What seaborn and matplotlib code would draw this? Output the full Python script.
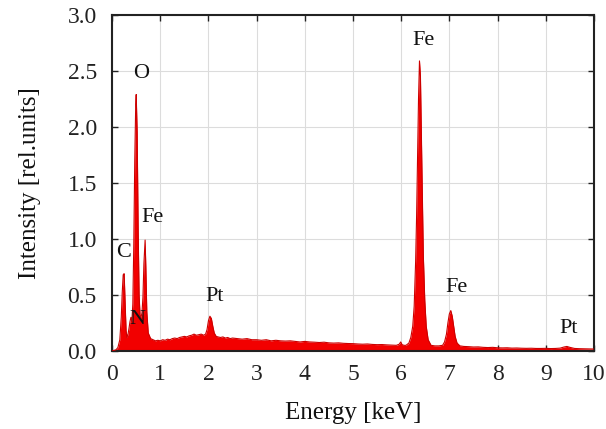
import matplotlib
matplotlib.use("Agg")
import matplotlib.pyplot as plt
import seaborn as sns
import pandas as pd

# Energy [keV] and intensity [rel. units]
energy = [
    0.00, 0.08, 0.12, 0.16, 0.19, 0.21, 0.23, 0.25, 0.27, 0.29, 0.31, 0.33,
    0.35, 0.37, 0.39, 0.41, 0.43, 0.45, 0.47, 0.49, 0.50, 0.52, 0.54, 0.56,
    0.58, 0.60, 0.62, 0.64, 0.66, 0.685, 0.70, 0.72, 0.75, 0.80, 0.85, 0.90,
    0.95, 1.00, 1.05, 1.10, 1.15, 1.20, 1.25, 1.30, 1.35, 1.40, 1.45, 1.50,
    1.55, 1.60, 1.65, 1.70, 1.75, 1.80, 1.85, 1.90, 1.94, 1.97, 2.00, 2.03,
    2.06, 2.09, 2.12, 2.16, 2.20, 2.25, 2.30, 2.35, 2.40, 2.45, 2.50, 2.60,
    2.70, 2.80, 2.90, 3.00, 3.10, 3.20, 3.30, 3.40, 3.50, 3.60, 3.70, 3.80,
    3.90, 4.00, 4.10, 4.20, 4.30, 4.40, 4.50, 4.60, 4.70, 4.80, 4.90, 5.00,
    5.10, 5.20, 5.30, 5.40, 5.50, 5.60, 5.70, 5.80, 5.90, 5.96, 5.99, 6.02,
    6.06, 6.10, 6.16, 6.20, 6.24, 6.27, 6.30, 6.32, 6.34, 6.36, 6.38, 6.40,
    6.42, 6.44, 6.46, 6.49, 6.52, 6.56, 6.62, 6.70, 6.78, 6.86, 6.90, 6.94,
    6.97, 7.00, 7.03, 7.06, 7.09, 7.12, 7.16, 7.22, 7.30, 7.40, 7.50, 7.60,
    7.70, 7.80, 7.90, 8.00, 8.10, 8.20, 8.30, 8.40, 8.50, 8.60, 8.70, 8.80,
    8.90, 9.00, 9.10, 9.20, 9.30, 9.38, 9.44, 9.50, 9.60, 9.70, 9.80, 9.90,
    10.00,
]
intensity = [
    0.00, 0.01, 0.03, 0.10, 0.30, 0.52, 0.68, 0.69, 0.42, 0.18, 0.12, 0.15,
    0.20, 0.26, 0.30, 0.26, 0.42, 0.95, 1.70, 2.20, 2.29, 1.95, 1.10, 0.50,
    0.32, 0.30, 0.34, 0.48, 0.78, 0.99, 0.75, 0.35, 0.16, 0.11, 0.10, 0.09,
    0.095, 0.09, 0.10, 0.095, 0.105, 0.10, 0.11, 0.115, 0.11, 0.12, 0.125, 0.13,
    0.125, 0.135, 0.14, 0.15, 0.14, 0.145, 0.15, 0.14, 0.15, 0.19, 0.27, 0.31,
    0.29, 0.22, 0.16, 0.13, 0.125, 0.12, 0.125, 0.115, 0.12, 0.11, 0.115, 0.11,
    0.105, 0.11, 0.10, 0.10, 0.095, 0.10, 0.09, 0.095, 0.09, 0.088, 0.09, 0.085,
    0.08, 0.085, 0.08, 0.078, 0.075, 0.078, 0.072, 0.07, 0.072, 0.068, 0.066, 0.065,
    0.062, 0.06, 0.062, 0.058, 0.056, 0.057, 0.054, 0.052, 0.05, 0.06, 0.08, 0.055,
    0.05, 0.05, 0.07, 0.12, 0.22, 0.40, 0.80, 1.20, 1.75, 2.25, 2.59, 2.45,
    1.90, 1.35, 0.85, 0.45, 0.22, 0.10, 0.05, 0.045, 0.045, 0.05, 0.08, 0.15,
    0.25, 0.33, 0.36, 0.31, 0.22, 0.13, 0.07, 0.045, 0.04, 0.038, 0.035, 0.036,
    0.032, 0.03, 0.032, 0.028, 0.027, 0.028, 0.025, 0.026, 0.024, 0.023, 0.024, 0.022,
    0.022, 0.023, 0.021, 0.022, 0.025, 0.035, 0.04, 0.032, 0.022, 0.02, 0.019, 0.018,
    0.017,
]

labels = ["C", "N", "O", "Fe", "Pt", "Fe", "Fe", "Pt"]
label_x = [0.23, 0.52, 0.60, 0.83, 2.13, 6.46, 7.15, 9.47]
label_y = [0.88, 0.28, 2.48, 1.19, 0.49, 2.77, 0.57, 0.20]

x_ticks = list(range(0, 11))
y_ticks = [0.0, 0.5, 1.0, 1.5, 2.0, 2.5, 3.0]

df = pd.DataFrame({"Energy": energy, "Intensity": intensity})

sns.set_theme(style="whitegrid")
plt.rcParams["font.family"] = ["Liberation Serif", "DejaVu Serif"]

fig = plt.figure(figsize=(6.06, 4.29), dpi=100)
ax = fig.add_axes([0.185, 0.182, 0.795, 0.783])

red = "#f20000"
ax.fill_between(df["Energy"], 0, df["Intensity"], color=red, linewidth=0, zorder=2)
sns.lineplot(data=df, x="Energy", y="Intensity", ax=ax, color="#cc0000",
             linewidth=0.8, zorder=3)

for t, xx, yy in zip(labels, label_x, label_y):
    ax.text(xx, yy, t, fontsize=16, ha="center", va="center", color="#111111", zorder=4)

ax.set_xlim(0, 10)
ax.set_ylim(0, 3.0)
ax.set_xticks(x_ticks)
ax.set_yticks(y_ticks)
ax.set_xticklabels([str(v) for v in x_ticks])
ax.set_yticklabels([f"{v:.1f}" for v in y_ticks])
ax.set_xlabel("Energy [keV]", fontsize=18, color="#111111", labelpad=12)
ax.set_ylabel("Intensity [rel.units]", fontsize=18, color="#111111", labelpad=19)

ax.grid(True, color="#dcdcdc", linewidth=0.8)
ax.set_facecolor("white")
for s in ax.spines.values():
    s.set_visible(True)
    s.set_color("#222222")
    s.set_linewidth(1.5)
ax.tick_params(axis="both", which="both", direction="in", length=4, width=1.0,
               colors="#222222", labelcolor="#222222", labelsize=17,
               top=True, right=True, bottom=True, left=True)
ax.tick_params(axis="x", pad=9.5)
ax.tick_params(axis="y", pad=11)

fig.savefig("out.png", dpi=100, facecolor="white")
